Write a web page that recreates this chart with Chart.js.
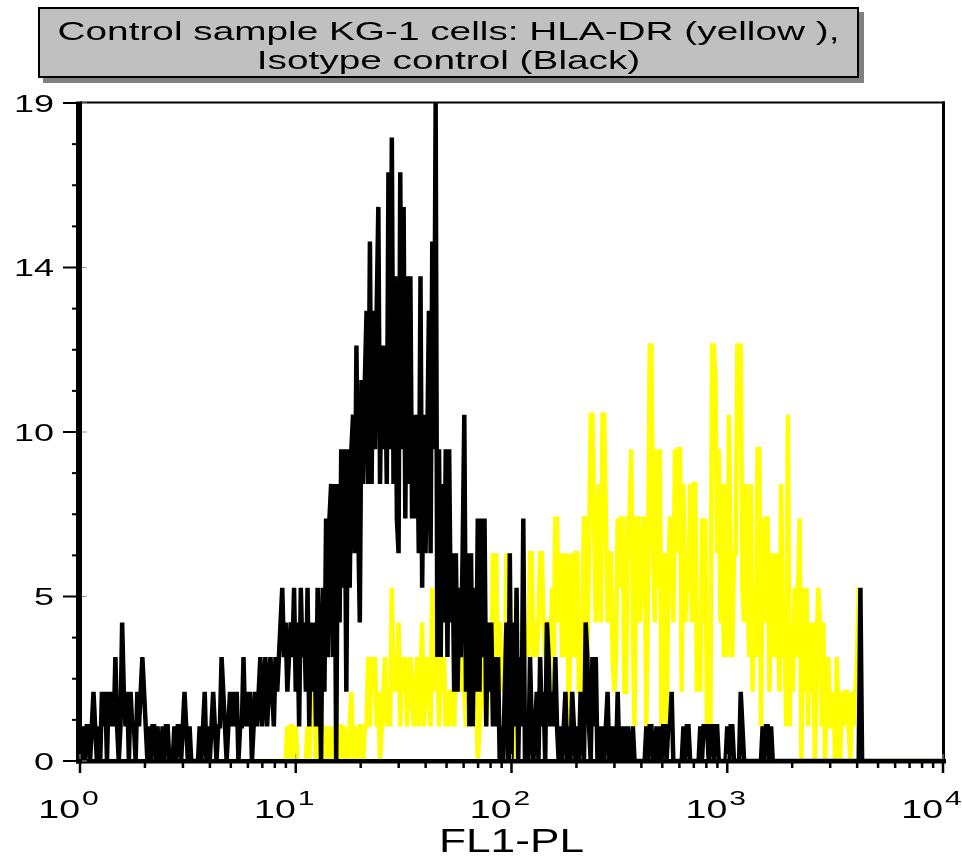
<!DOCTYPE html>
<html>
<head>
<meta charset="utf-8">
<script src="https://cdn.jsdelivr.net/npm/chart.js@4/dist/chart.umd.min.js"></script>
<style>
  html, body { margin: 0; padding: 0; background: #ffffff; }
  #wrap { width: 962px; height: 856px; position: relative; }
</style>
</head>
<body>
<div id="wrap"><canvas id="histo" width="962" height="856"></canvas></div>
<script>
// ---- text ----
const titleLines = ['Control sample KG-1 cells: HLA-DR (yellow ),', 'Isotype control (Black)'];
const xAxisTitle = 'FL1-PL';

// ---- axes ----
const channelsPerDecade = 128;                // 512 channels over 4 log decades
const xDecadeExponents = [0, 1, 2, 3, 4];     // labels 10^0 .. 10^4
const yTickValues = [0, 4.75, 9.5, 14.25, 19];
const yTickLabels = ['0', '5', '10', '14', '19'];

// ---- isotype control (black): events per channel, one array per decade ----
const isotypeDecade1 = [
  1,0,1,0,1,1,0,1,2,1,0,1,0,2,1,2,
  0,2,1,2,1,3,1,0,1,4,2,1,2,0,2,1,
  1,0,2,1,2,3,2,1,0,1,0,1,1,0,1,0,
  0,1,0,1,1,0,0,0,1,0,1,1,0,1,2,1,
  0,1,0,0,0,0,0,1,0,1,2,0,1,0,1,2,
  1,0,1,1,3,2,1,0,1,2,1,2,1,2,0,1,
  1,3,1,2,1,2,0,1,2,1,2,3,1,2,3,1,
  2,3,2,1,3,2,3,4,5,3,4,2,3,4,3,5
];
const isotypeDecade2 = [
  2,4,1,5,3,4,2,5,1,4,2,4,1,5,3,0,
  5,2,7,3,7,8,3,8,0,8,4,9,5,9,2,9,
  5,9,10,6,12,7,4,11,8,11,13,8,15,8,13,9,
  13,16,8,12,9,12,8,17,9,18,8,14,7,6,17,9,
  16,7,14,8,14,7,10,7,10,6,14,5,10,6,9,13,
  6,15,9,19,3,9,3,8,4,9,3,9,4,6,2,6,
  2,5,3,6,10,2,6,1,6,1,5,2,7,2,7,3,
  7,1,4,2,4,1,3,1,3,0,1,0,2,4,0,6
];
const isotypeDecade3 = [
  0,4,1,5,0,3,1,7,0,1,0,3,1,0,1,2,
  0,3,1,2,0,4,3,1,2,1,3,1,0,1,0,1,
  2,0,1,0,2,1,0,1,0,2,1,0,4,3,1,0,
  3,1,3,0,1,0,1,0,1,2,0,1,0,1,0,2,
  0,1,0,1,0,1,0,0,1,0,0,0,0,0,0,0,
  1,0,1,1,0,0,1,0,1,0,1,1,0,1,1,2,
  0,0,0,0,0,0,1,0,1,1,0,0,0,0,0,0,
  1,0,1,1,1,0,1,1,0,1,1,0,0,0,0,0
];
const isotypeDecade4 = [
  1,0,1,1,0,0,0,0,2,1,0,0,0,0,0,0,
  0,0,0,0,0,1,0,1,1,0,1,0,0,0,0,0,
  0,0,0,0,0,0,0,0,0,0,0,0,0,0,0,0,
  0,0,0,0,0,0,0,0,0,0,0,0,0,0,0,0,
  0,0,0,0,0,0,0,0,0,0,0,0,0,0,0,5,
  0,0,0,0,0,0,0,0,0,0,0,0,0,0,0,0,
  0,0,0,0,0,0,0,0,0,0,0,0,0,0,0,0,
  0,0,0,0,0,0,0,0,0,0,0,0,0,0,0,0
];

// ---- HLA-DR (yellow): events per channel, one array per decade ----
const hlaDrDecade1 = [
  0,0,0,0,0,0,0,0,0,0,0,0,0,0,0,0,
  0,0,0,0,0,0,0,0,0,0,0,0,0,0,0,0,
  0,0,0,0,0,0,0,0,0,0,0,0,0,0,0,0,
  0,0,0,0,0,0,0,0,0,0,0,0,0,0,0,0,
  0,0,0,0,0,0,0,0,0,0,0,0,0,0,0,0,
  0,0,0,0,0,0,0,0,0,0,0,0,0,0,0,0,
  0,0,0,0,0,0,0,0,0,0,0,0,0,0,0,0,
  0,0,0,0,0,0,0,0,0,0,0,1,0,1,1,0
];
const hlaDrDecade2 = [
  1,0,0,0,0,0,0,1,0,2,1,2,0,1,0,1,
  1,0,1,0,0,1,0,0,1,0,1,1,0,1,0,0,
  1,2,0,1,0,0,1,1,0,1,1,3,1,3,2,3,
  1,2,0,1,2,3,1,2,1,5,2,3,2,4,1,3,
  2,3,1,2,3,2,1,2,3,1,2,4,1,2,3,2,
  1,5,3,2,3,1,3,2,3,1,2,1,2,2,1,3,
  2,4,2,3,2,1,2,2,1,2,1,2,0,1,2,3,
  2,1,2,3,2,6,3,6,2,4,2,3,2,6,4,5
];
const hlaDrDecade3 = [
  2,4,0,0,2,3,2,4,3,4,3,6,6,3,4,3,
  4,6,6,4,3,4,4,2,5,3,7,7,4,6,3,6,
  3,6,1,4,6,3,6,6,2,2,4,7,7,3,6,10,
  10,7,4,7,8,4,10,10,7,4,6,6,3,2,3,7,
  5,7,7,2,2,7,7,9,4,1,7,7,4,5,7,7,
  1,5,12,12,6,4,9,5,9,1,5,6,1,5,7,7,
  4,9,6,9,9,2,8,4,5,5,8,4,8,8,2,3,
  2,7,4,7,1,3,1,12,12,11,6,9,4,8,3,8
];
const hlaDrDecade4 = [
  3,10,6,3,6,6,12,12,12,5,4,8,5,3,8,2,
  5,3,9,9,1,7,4,7,7,2,5,6,3,6,4,2,
  8,3,4,1,10,1,4,2,5,3,5,7,0,5,2,5,
  1,4,2,4,0,3,5,4,1,4,0,2,3,1,1,2,
  0,3,1,0,2,1,2,2,1,0,2,1,2,3,5,0,
  0,0,0,0,0,0,0,0,0,0,0,0,0,0,0,0,
  0,0,0,0,0,0,0,0,0,0,0,0,0,0,0,0,
  0,0,0,0,0,0,0,0,0,0,0,0,0,0,0,0
];

const isotypeCounts = [...isotypeDecade1, ...isotypeDecade2, ...isotypeDecade3, ...isotypeDecade4];
const hlaDrCounts = [...hlaDrDecade1, ...hlaDrDecade2, ...hlaDrDecade3, ...hlaDrDecade4];

// channel index -> fluorescence intensity on the log axis
const channelIntensity = i => Math.pow(10, i / channelsPerDecade);
const toPoints = counts => counts.map((c, i) => ({ x: channelIntensity(i), y: c }));

const FONT = '"Liberation Sans", Arial, Helvetica, sans-serif';

// Arial-style text stretched horizontally
function wideText(ctx, str, px, py, size, align, sx) {
  ctx.save();
  ctx.font = size + 'px ' + FONT;
  ctx.translate(px, py);
  ctx.scale(sx, 1);
  ctx.textAlign = align;
  ctx.textBaseline = 'alphabetic';
  ctx.fillStyle = '#000';
  ctx.fillText(str, 0, 0);
  ctx.restore();
}

const histogramFrame = {
  id: 'histogramFrame',
  beforeDraw(chart) {
    const ctx = chart.ctx;
    ctx.save();
    ctx.fillStyle = '#ffffff';
    ctx.fillRect(0, 0, chart.width, chart.height);

    // title box with drop shadow
    const bx = 38, by = 7, bw = 821, bh = 71;
    ctx.fillStyle = '#808080';
    ctx.fillRect(bx + 5, by + 5, bw, bh);
    ctx.fillStyle = '#c0c0c0';
    ctx.fillRect(bx, by, bw, bh);
    ctx.strokeStyle = '#000';
    ctx.lineWidth = 2;
    ctx.strokeRect(bx + 1, by + 1, bw - 2, bh - 2);
    ctx.restore();

    const cx = bx + bw / 2;
    wideText(ctx, titleLines[0], cx, 40, 25.5, 'center', 1.52);
    wideText(ctx, titleLines[1], cx, 69, 25.5, 'center', 1.52);
  },
  afterDraw(chart) {
    const { ctx, chartArea: a, scales } = chart;
    const xs = scales.x, ys = scales.y;
    ctx.save();
    ctx.fillStyle = '#000';

    // frame: heavy left/bottom axes, lighter top/right
    ctx.fillRect(a.left, a.top - 1.5, a.right - a.left + 2, 2);
    ctx.fillRect(a.right - 1, a.top - 1.5, 3, a.bottom - a.top + 2);
    ctx.fillRect(a.left - 4, a.top - 1.5, 6, a.bottom - a.top + 4);
    ctx.fillRect(a.left - 4, a.bottom - 2, a.right - a.left + 7, 4.5);

    // y ticks: majors labelled, three minors between
    const yMinorStep = (yTickValues[1] - yTickValues[0]) / 4;
    for (let k = 0; k < yTickValues.length; k++) {
      const v = yTickValues[k];
      const py = ys.getPixelForValue(v);
      ctx.fillRect(a.left - 17, py - 1, 13, 2);
      ctx.fillStyle = '#9a9a9a';
      ctx.fillRect(a.left + 2, py - 0.5, 5, 1);
      ctx.fillStyle = '#000';
      wideText(ctx, yTickLabels[k], a.left - 26, py + 8.5, 24, 'right', 1.5);
      if (k < yTickValues.length - 1) {
        for (let m = 1; m < 4; m++) {
          const pm = ys.getPixelForValue(v + m * yMinorStep);
          ctx.fillRect(a.left - 8, pm - 1, 4, 2);
        }
      }
    }

    // x ticks: decades labelled as powers of ten, 2..9 as minors
    for (const e of xDecadeExponents) {
      const px = xs.getPixelForValue(Math.pow(10, e));
      ctx.fillRect(px - 1.25, a.bottom + 2, 2.5, 10);
      ctx.fillStyle = '#9a9a9a';
      ctx.fillRect(px - 0.5, a.bottom - 7, 1, 5);
      ctx.fillStyle = '#000';
      wideText(ctx, '10', px, 818, 25, 'right', 1.5);
      wideText(ctx, String(e), px + 2, 805, 20, 'left', 1.5);
      if (e < xDecadeExponents[xDecadeExponents.length - 1]) {
        for (let m = 2; m <= 9; m++) {
          const pm = xs.getPixelForValue(m * Math.pow(10, e));
          ctx.fillRect(pm - 1.25, a.bottom + 2, 2.5, 5);
        }
      }
    }

    wideText(ctx, xAxisTitle, (a.left + a.right) / 2, 852, 34, 'center', 1.3);
    ctx.restore();
  }
};

new Chart(document.getElementById('histo'), {
  type: 'line',
  data: {
    datasets: [
      {
        label: 'Isotype control',
        data: toPoints(isotypeCounts),
        borderColor: '#000000',
        borderWidth: 4.5,
        order: 0
      },
      {
        label: 'HLA-DR',
        data: toPoints(hlaDrCounts),
        borderColor: '#ffff00',
        borderWidth: 4.5,
        order: 1
      }
    ]
  },
  options: {
    responsive: false,
    animation: false,
    devicePixelRatio: 1,
    layout: { padding: { left: 80, right: 19, top: 103, bottom: 95 } },
    elements: {
      line: { tension: 0, borderJoinStyle: 'miter', fill: false },
      point: { radius: 0, hoverRadius: 0 }
    },
    plugins: { legend: { display: false }, title: { display: false }, tooltip: { enabled: false } },
    events: [],
    scales: {
      x: { type: 'logarithmic', min: 1, max: 10000, display: false },
      y: { type: 'linear', min: 0, max: 19, display: false }
    }
  },
  plugins: [histogramFrame]
});
</script>
</body>
</html>
